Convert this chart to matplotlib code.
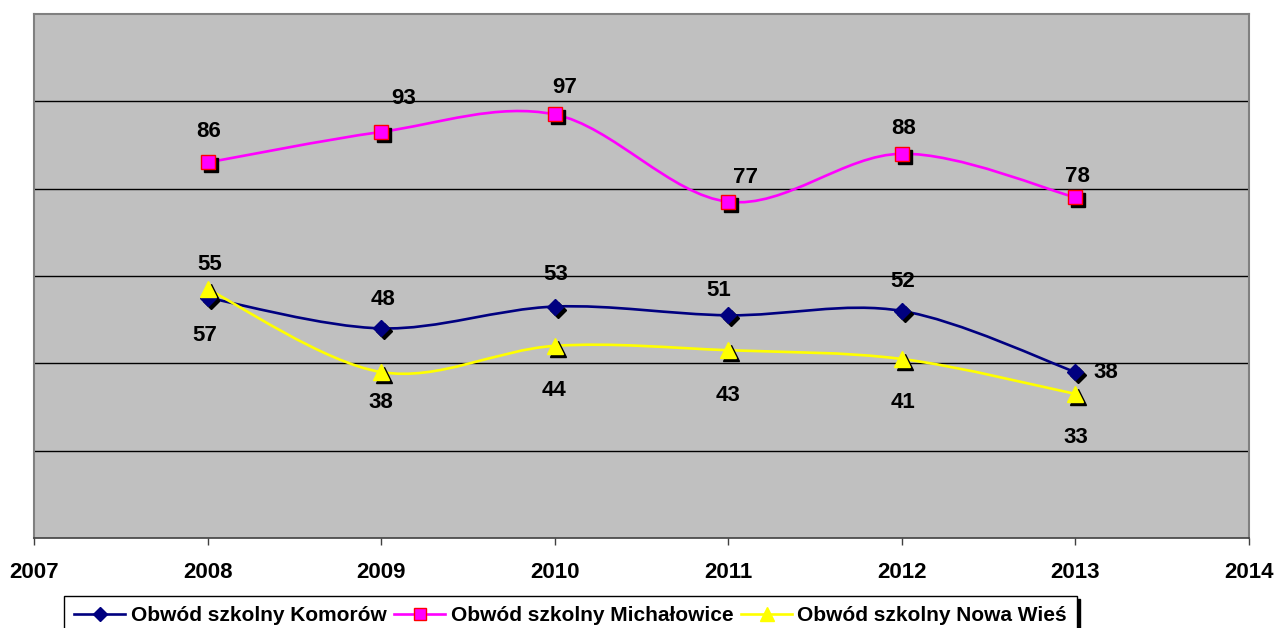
import matplotlib.pyplot as plt
import numpy as np
from matplotlib.path import Path
from matplotlib.patches import PathPatch
from matplotlib.lines import Line2D
from matplotlib.transforms import ScaledTranslation

plt.rcParams['font.family'] = ['Liberation Sans', 'DejaVu Sans']

# Data
years = [2008, 2009, 2010, 2011, 2012, 2013]
komorow = [55, 48, 53, 51, 52, 38]
michalowice = [86, 93, 97, 77, 88, 78]
nowa_wies = [57, 38, 44, 43, 41, 33]
labels = ['Obwód szkolny Komorów', 'Obwód szkolny Michałowice', 'Obwód szkolny Nowa Wieś']


def smooth_path(x, y):
    # Excel-like smoothed line: cubic Bezier segments with Catmull-Rom control points
    pts = np.column_stack([x, y]).astype(float)
    ext = np.vstack([pts[0], pts, pts[-1]])
    verts = [pts[0]]
    codes = [Path.MOVETO]
    for i in range(1, len(ext) - 2):
        p0, p1, p2, p3 = ext[i - 1], ext[i], ext[i + 1], ext[i + 2]
        verts += [p1 + (p2 - p0) / 6, p2 - (p3 - p1) / 6, p2]
        codes += [Path.CURVE4] * 3
    return Path(verts, codes)


fig = plt.figure(figsize=(12.77, 6.28), dpi=100)
ax = fig.add_axes([34 / 1277, 1 - 538 / 628, 1215 / 1277, 524 / 628])
ax.set_facecolor('#c0c0c0')

shadow = ax.transData + ScaledTranslation(3 / 100, -3 / 100, fig.dpi_scale_trans)

series = [
    (komorow, '#000080', 'D', 8, '#000080'),
    (michalowice, '#ff00ff', 's', 10.5, '#ff0000'),
    (nowa_wies, '#ffff00', '^', 12, '#ffff00'),
]

handles = []
for vals, col, mk, ms, ec in series:
    ax.add_patch(PathPatch(smooth_path(years, vals), fill=False, edgecolor=col, lw=1.9, zorder=3))
    ax.plot(years, vals, ls='none', marker=mk, ms=ms, color='black', mec='black', transform=shadow, zorder=4)
    ax.plot(years, vals, ls='none', marker=mk, ms=ms, color=col, mec=ec, mew=1, zorder=5)
    handles.append(Line2D([], [], color=col, lw=1.9, marker=mk, ms=ms * 0.85, mec=ec))

# data labels (offsets in pixels)
off_k = [(2, 33), (2, 29), (1, 32), (-10, 25), (1, 29), (30, 0)]
off_m = [(1, 31), (22, 33), (10, 27), (17, 24), (2, 25), (2, 21)]
off_n = [(-3, -46), (0, -30), (-1, -45), (0, -45), (1, -44), (0, -44)]
for vals, offs in [(komorow, off_k), (michalowice, off_m), (nowa_wies, off_n)]:
    for x, v, (dx, dy) in zip(years, vals, offs):
        ax.annotate(str(v), xy=(x, v), xytext=(dx, dy), textcoords='offset pixels',
                    ha='center', va='center', fontsize=16, fontweight='bold', zorder=6)

ax.set_xlim(2007, 2014)
ax.set_ylim(0, 120)
ax.set_xticks(range(2007, 2015))
ax.set_yticks(np.arange(20, 120, 20))
ax.yaxis.set_ticks_position('none')
ax.set_yticklabels([])
ax.grid(axis='y', color='black', lw=1)
ax.set_axisbelow(True)
ax.tick_params(axis='x', direction='out', length=5, width=1, color='#404040',
               pad=12, labelsize=16)
for lbl in ax.get_xticklabels():
    lbl.set_fontweight('bold')
for s in ['left', 'top', 'right']:
    ax.spines[s].set_color('#808080')
    ax.spines[s].set_linewidth(1.5)
ax.spines['bottom'].set_color('#404040')
ax.spines['bottom'].set_linewidth(1.2)

leg = fig.legend(handles, labels, loc='upper left', bbox_to_anchor=(64 / 1277, 1 - 596 / 628),
                 borderaxespad=0, ncol=3, frameon=True, fancybox=False, edgecolor='black',
                 handlelength=2.45, handletextpad=0.25, columnspacing=0.38, borderpad=0.5,
                 prop={'weight': 'bold', 'size': 15},
                 shadow={'color': 'black', 'alpha': 1})
leg.get_frame().set_linewidth(1)

fig.savefig('out.png', dpi=100)
